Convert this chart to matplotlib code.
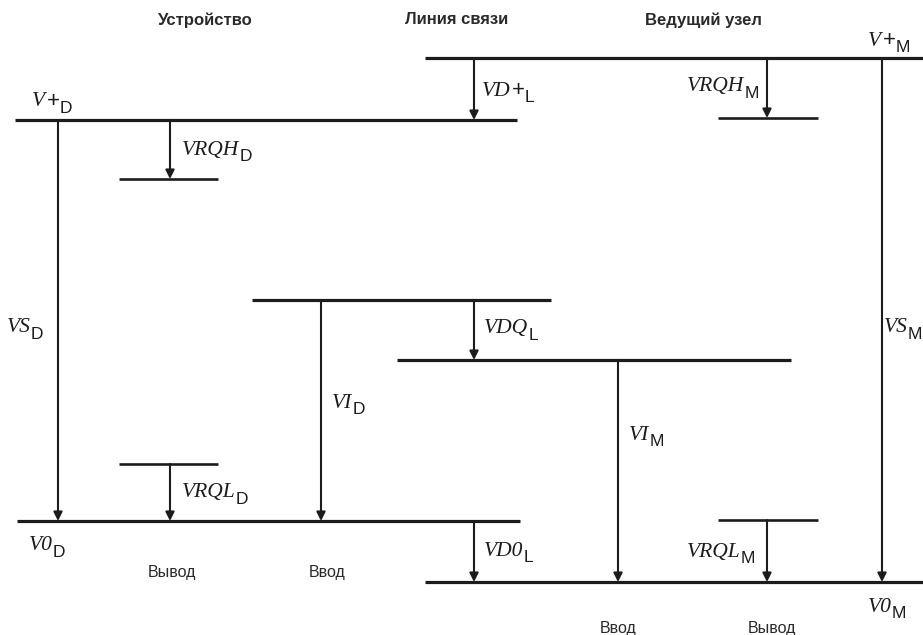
import matplotlib.pyplot as plt

plt.rcParams['font.family'] = ['Liberation Sans', 'DejaVu Sans']

ink = '#1c1c1c'

# level lines: x start, x end, y (pixel coordinates, y down)
levels = [(425, 923, 58), (15, 517, 120), (252, 551, 300), (397, 791, 360),
          (17, 520, 521), (425, 923, 582)]
short_levels = [(119, 218, 179), (718, 818, 118), (119, 218, 464), (718, 818, 520)]

# arrows: x, y from, y to
arrows = [(58, 120, 521), (170, 120, 179), (170, 464, 521), (321, 300, 521),
          (474, 58, 120), (474, 300, 360), (474, 521, 582), (767, 58, 118),
          (618, 360, 582), (767, 520, 582), (882, 58, 582)]

# symbol labels: symbol, subscript, x left, y centre
labels = [('V+', 'D', 32, 102), ('VRQH', 'D', 182, 150),
          ('VD+', 'L', 482, 91), ('V+', 'M', 868, 41),
          ('VRQH', 'M', 687, 87), ('VS', 'D', 7, 328),
          ('VS', 'M', 884, 328), ('VDQ', 'L', 484, 329),
          ('VI', 'D', 332, 403), ('VI', 'M', 629, 435),
          ('VRQL', 'D', 182, 493), ('V0', 'D', 29, 546),
          ('VD0', 'L', 484, 551), ('VRQL', 'M', 687, 552),
          ('V0', 'M', 868, 607)]

headers = [('Устройство', 205, 20), ('Линия связи', 457, 20), ('Ведущий узел', 703, 20)]
pins = [('Вывод', 172, 572), ('Ввод', 327, 572), ('Ввод', 618, 628), ('Вывод', 772, 628)]

fig = plt.figure(figsize=(9.23, 6.35), dpi=100)
ax = fig.add_axes([0, 0, 1, 1])
ax.set_xlim(0, 923)
ax.set_ylim(635, 0)
ax.axis('off')

for x0, x1, y in levels:
    ax.plot([x0, x1], [y, y], color=ink, lw=2.3, solid_capstyle='butt')
for x0, x1, y in short_levels:
    ax.plot([x0, x1], [y, y], color=ink, lw=1.9, solid_capstyle='butt')

for x, y0, y1 in arrows:
    ax.annotate('', xy=(x, y1), xytext=(x, y0),
                arrowprops=dict(arrowstyle='-|>', color=ink, lw=1.5,
                                mutation_scale=13, shrinkA=0, shrinkB=0))

for base, sub, x, y in labels:
    t = ax.text(x, y, base.rstrip('+'), fontsize=15.5, family='Liberation Serif',
                style='italic', color=ink, ha='left', va='center')
    if base.endswith('+'):
        t = ax.annotate('+', xy=(1, 0.5), xycoords=t, xytext=(1, 0.5),
                        textcoords='offset points', fontsize=16,
                        color=ink, ha='left', va='center')
    ax.annotate(sub, xy=(1, 0), xycoords=t, xytext=(0, -1),
                textcoords='offset points', fontsize=12.5,
                color=ink, ha='left', va='baseline')

for s, x, y in headers:
    ax.text(x, y, s, fontsize=12, fontweight='bold', color='#2a2a2a', ha='center', va='center')
for s, x, y in pins:
    ax.text(x, y, s, fontsize=11.5, color='#2a2a2a', ha='center', va='center')

plt.savefig('out.png', dpi=100)
